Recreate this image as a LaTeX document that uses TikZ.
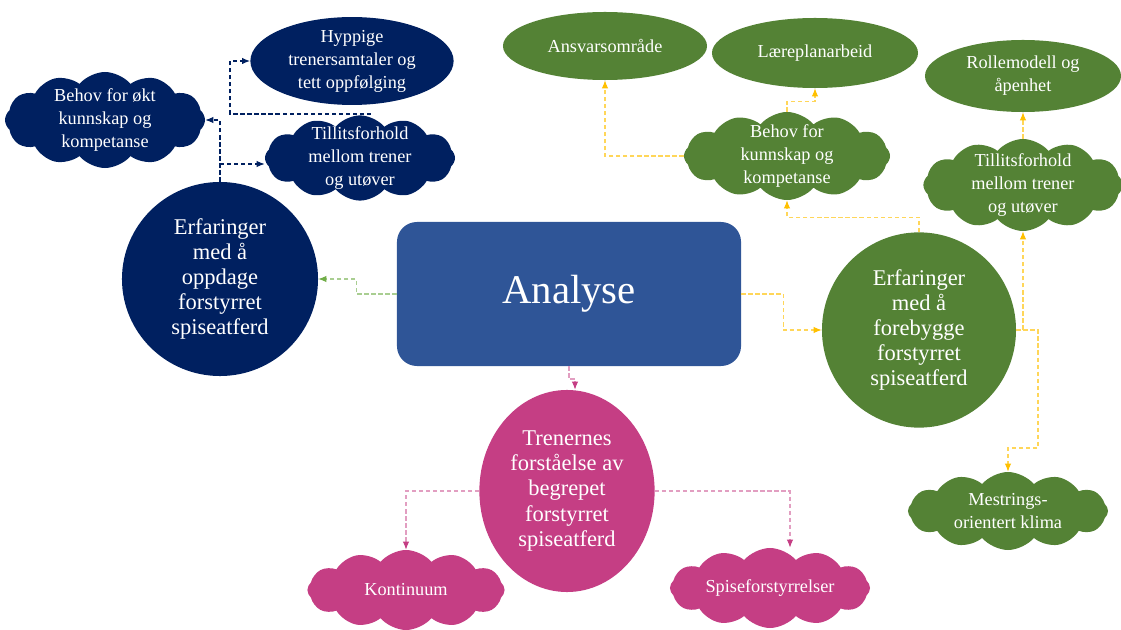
\documentclass[tikz,border=0pt]{standalone}
\usepackage{fontspec}
\setmainfont{Liberation Serif}
\usetikzlibrary{arrows.meta,shapes.geometric,shapes.symbols}
\definecolor{navy}{RGB}{0,32,96}
\definecolor{boxblue}{RGB}{47,85,151}
\definecolor{leaf}{RGB}{84,130,53}
\definecolor{rose}{RGB}{197,62,132}
\definecolor{gold}{RGB}{255,192,0}
\definecolor{lime}{RGB}{112,173,71}

\begin{document}
\begin{tikzpicture}[x=0.025cm,y=-0.025cm,
  every node/.style={text=white,align=center,inner sep=0pt},
  small/.style={font=\fontsize{13}{16.4}\selectfont},
  large/.style={font=\fontsize{16}{17.8}\selectfont},
  oval/.style={ellipse,small},
  puff/.style={cloud,cloud puffs=12,cloud puff arc=100,cloud ignores aspect,
    label={[small]center:#1}},
  link/.style={dash pattern=on 3pt off 2pt,line width=0.8pt},
  navylink/.style={link,draw=navy,-{Latex[length=2mm,width=1.6mm,color=navy]}},
  limelink/.style={link,draw=lime!60,-{Latex[length=2mm,width=1.6mm,color=lime]}},
  goldlink/.style={link,draw=gold!65,-{Latex[length=2mm,width=1.6mm,color=gold]}},
  roselink/.style={link,draw=rose!50,-{Latex[length=2mm,width=1.6mm,color=rose]}}]
\clip (0,0) rectangle (1121,630);

% centre
\node[rectangle,rounded corners=0.5cm,fill=boxblue,minimum width=8.6cm,minimum height=3.6cm,
  font=\fontsize{29}{34}\selectfont] (analyse) at (569,294) {Analyse};

% left, navy
\node[ellipse,fill=navy,minimum width=4.9cm,minimum height=4.85cm,large] (erfA) at (220,279)
  {Erfaringer\\med å\\oppdage\\forstyrret\\spiseatferd};
\node[puff={Behov for økt\\kunnskap og\\kompetanse},fill=navy,minimum width=5cm,minimum height=2.4cm]
  (behovA) at (105,120) {};
\node[oval,fill=navy,minimum width=5.08cm,minimum height=1.95cm] (hyppig) at (352,61)
  {Hyppige\\trenersamtaler og\\tett oppfølging};
\node[puff={Tillitsforhold\\mellom trener\\og utøver},fill=navy,minimum width=4.75cm,minimum height=2.13cm]
  (tillitA) at (360,158) {};

% right, green
\node[ellipse,fill=leaf,minimum width=4.85cm,minimum height=4.88cm,large] (erfB) at (919,330)
  {Erfaringer\\med å\\forebygge\\forstyrret\\spiseatferd};
\node[oval,fill=leaf,minimum width=5.1cm,minimum height=1.7cm] (ansvar) at (605,46) {Ansvarsområde};
\node[oval,fill=leaf,minimum width=5.15cm,minimum height=1.75cm] (laerepl) at (815,53) {Læreplanarbeid};
\node[oval,fill=leaf,minimum width=4.9cm,minimum height=1.8cm] (rolle) at (1023,76)
  {Rollemodell og\\åpenhet};
\node[puff={Behov for\\kunnskap og\\kompetanse},fill=leaf,minimum width=5.15cm,minimum height=2.2cm]
  (behovB) at (787,156) {};
\node[puff={Tillitsforhold\\mellom trener\\og utøver},fill=leaf,minimum width=4.98cm,minimum height=2.3cm]
  (tillitB) at (1023,185) {};
\node[puff={Mestrings-\\orientert klima},fill=leaf,minimum width=5cm,minimum height=1.95cm]
  (mestr) at (1008,511) {};

% bottom, pink
\node[ellipse,fill=rose,minimum width=4.38cm,minimum height=5.05cm,large] (trener) at (567,491)
  {Trenernes\\forståelse av\\begrepet\\forstyrret\\spiseatferd};
\node[puff={Kontinuum},fill=rose,minimum width=4.93cm,minimum height=2cm] (kontin) at (406,590) {};
\node[puff={Spiseforstyrrelser},fill=rose,minimum width=5cm,minimum height=2cm] (spise) at (770,588) {};

% connectors
\coordinate (hbend) at (230,114);
\coordinate (mbend) at (1038,448);
\coordinate (pbend) at (575,379);
\draw[navylink] (erfA.north) |- (behovA.east);
\draw[navylink] (erfA.north |- 0,164) -- (tillitA.west |- 0,164);
\draw[navylink] ([xshift=0.25cm]tillitA.north) |- (hbend) |- (hyppig.west);
\draw[limelink] (analyse.west) -- ++(-40,0) |- (erfA.east);
\draw[goldlink] (analyse.east) -- ++(42,0) |- (erfB.west);
\draw[goldlink] (erfB.north) -- ++(0,-15) -| (behovB.south);
\draw[goldlink] (behovB.west) -| (ansvar.south);
\draw[goldlink] (behovB.north) -- ++(0,-10) -| (laerepl.south);
\draw[goldlink] (erfB.east) -| (tillitB.south);
\draw[goldlink] (erfB.east) -| (mbend) -| (mestr.north);
\draw[goldlink] (tillitB.north) -- (rolle.south);
\draw[roselink] (analyse.south) |- (pbend) -- (pbend |- trener.north);
\draw[roselink] (trener.west) -| (kontin.north);
\draw[roselink] (trener.east) -| ([xshift=0.5cm]spise.north);
\end{tikzpicture}
\end{document}
